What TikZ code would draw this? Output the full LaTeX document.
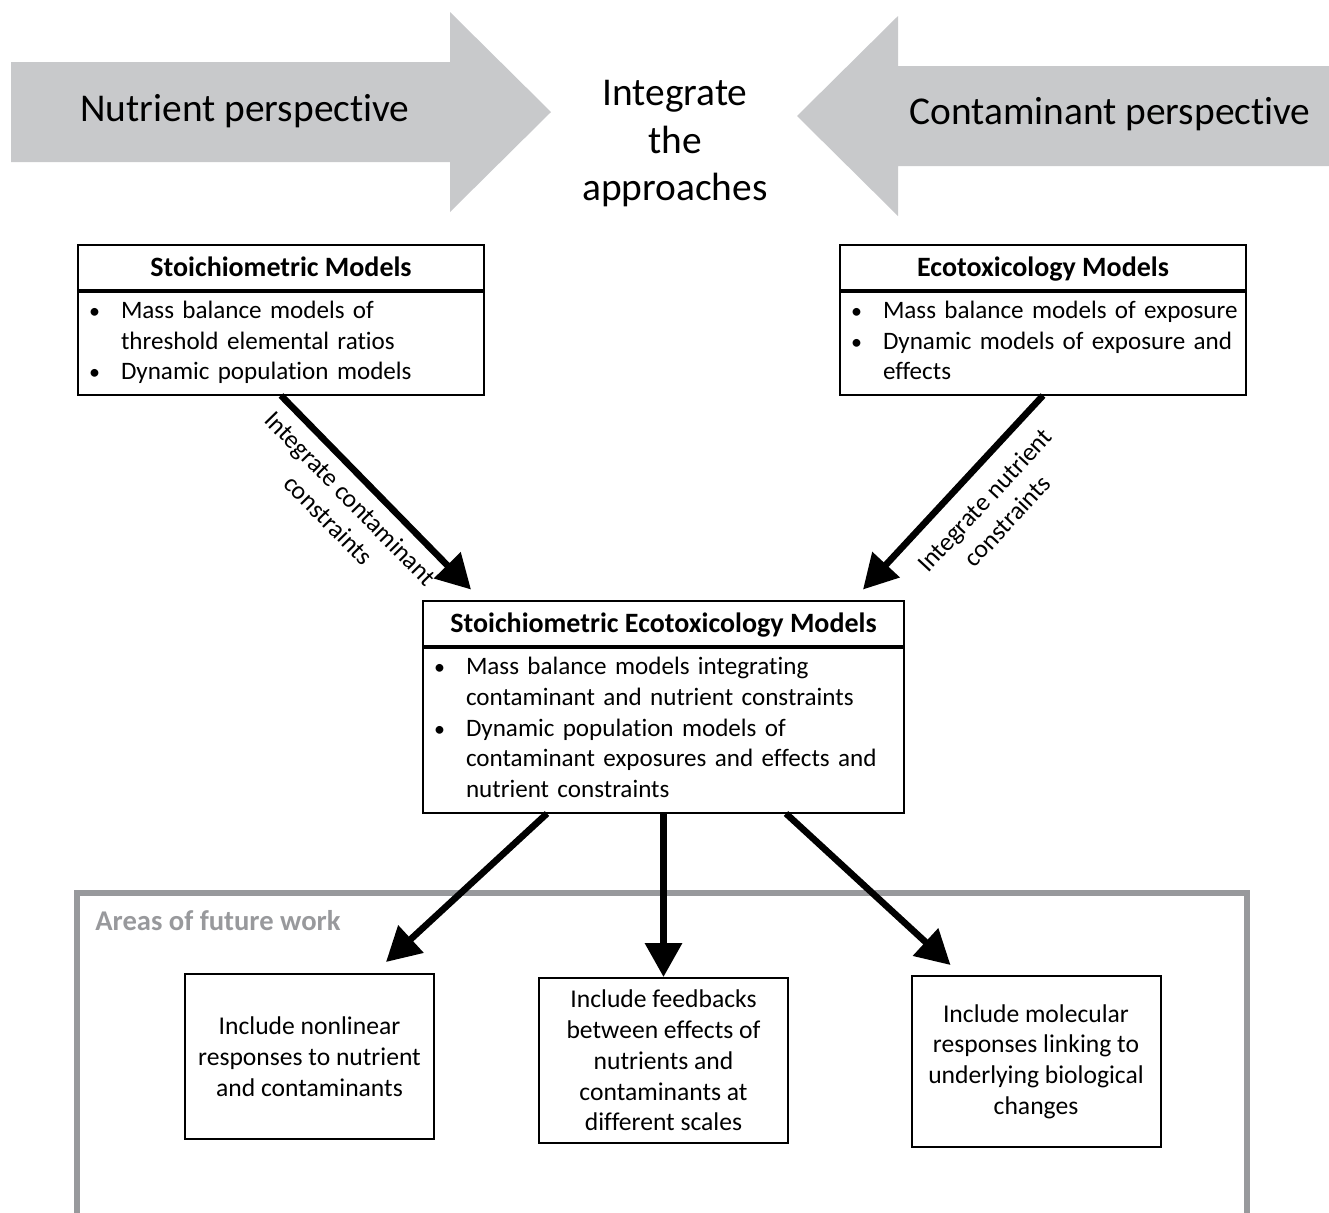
\documentclass[tikz,border=0pt]{standalone}
\usepackage{fontspec}
\setmainfont{Carlito}[Ligatures=CommonOff]
\usetikzlibrary{arrows.meta,calc,positioning}
\definecolor{arrowgray}{RGB}{200,201,203}
\definecolor{framegray}{RGB}{152,153,156}
\newcommand{\blist}[1]{\noindent\begin{tabular}{@{\hspace{1.5pt}}p{16pt}@{}l@{}}#1\end{tabular}}
\newcommand{\bul}{{\fontsize{11}{11}\selectfont\textbullet}}
\tikzset{
    >={Triangle[length=17pt,width=18pt]},
    titlebox/.style={
           draw=black, line width=1pt,
           minimum height=22.5pt,
           text height=10pt, text depth=1pt,
           inner sep=0pt,
           font=\bfseries\fontsize{14}{17}\selectfont},
    listbox/.style={
           draw=black, line width=1pt,
           inner xsep=4pt, inner ysep=0pt,
           align=left,
           font=\fontsize{12.55}{15.4}\selectfont},
    futbox/.style={
           draw=black, line width=1pt,
           minimum width=124.5pt,
           align=center,
           font=\fontsize{12.8}{15.4}\selectfont},
    bigtext/.style={
           align=center,
           font=\fontsize{19.7}{23.75}\selectfont},
    pillabel/.style={
           align=center, inner sep=5pt,
           font=\fontsize{12.8}{15.4}\selectfont},
    pil/.style={
           ->,
           line width=3.3pt}
}
\begin{document}
\begin{tikzpicture}[x=0.5pt,y=-0.5pt]
        \useasboundingbox (0,0) rectangle (1329,1212);
        \fill[arrowgray] (11,62) -- (450,62) -- (450,12) -- (551,112) -- (450,212) -- (450,162) -- (11,162) -- cycle;
        \fill[arrowgray] (1329,66) -- (898,66) -- (898,16) -- (797,116) -- (898,216) -- (898,166) -- (1329,166) -- cycle;
        \node[bigtext] (nutrient) at (245,111) {Nutrient perspective};
        \node[bigtext] (contam) at (1110,114) {Contaminant perspective};
        \node[bigtext] (integ) at (675,144) {Integrate\\the\\approaches};

        \node[titlebox, minimum width=203pt] (stoichT) at (281,267) {Stoichiometric Models};
        \node[listbox, text width=195pt, minimum height=51.5pt, below=0pt of stoichT] (stoich)
             {\blist{\bul & Mass balance models of\\ & threshold elemental ratios\\ \bul & Dynamic population models}};
        \node[titlebox, minimum width=203pt] (ecotoxT) at (1043,267) {Ecotoxicology Models};
        \node[listbox, text width=195pt, minimum height=51.5pt, below=0pt of ecotoxT] (ecotox)
             {\blist{\bul & Mass balance models of exposure\\ \bul & Dynamic models of exposure and\\ & effects}};
        \node[titlebox, minimum width=240.5pt] (sembT) at (663.5,623) {Stoichiometric Ecotoxicology Models};
        \node[listbox, text width=232.5pt, minimum height=82.5pt, below=0pt of sembT] (semb)
             {\blist{\bul & Mass balance models integrating\\ & contaminant and nutrient constraints\\ \bul & Dynamic population models of\\ & contaminant exposures and effects and\\ & nutrient constraints}};

        \draw[framegray, line width=3.3pt] (77,1216) -- (77,893) -- (1247,893) -- (1247,1216);
        \node[anchor=west, inner sep=0pt, text=framegray, font=\bfseries\fontsize{14.3}{17}\selectfont] (future) at (95,921) {Areas of future work};

        \node[futbox, minimum height=82.5pt] (futA) at (309.5,1056.5) {Include nonlinear\\responses to nutrient\\and contaminants};
        \node[futbox, minimum height=82.5pt] (futB) at (663.5,1060.5) {Include feedbacks\\between effects of\\nutrients and\\contaminants at\\different scales};
        \node[futbox, minimum height=85.5pt] (futC) at (1036,1061.5) {Include molecular\\responses linking to\\underlying biological\\changes};

        \draw[pil] (stoich.south) -- node[pillabel, sloped, below, pos=0.45] {Integrate contaminant\\constraints} ([shift={(49,-10)}]sembT.north west);
        \draw[pil] (ecotox.south) -- node[pillabel, sloped, below, pos=0.44, inner sep=8pt] {Integrate nutrient\\constraints} ([shift={(-42,-10)}]sembT.north east);
        \draw[pil] ([xshift=62.5pt]semb.south west) -- ([shift={(-49,-11)}]futA.north east);
        \draw[pil] (semb.south) -- (futB.north);
        \draw[pil] ([xshift=-59.5pt]semb.south east) -- ([shift={(40,-10)}]futC.north west);
\end{tikzpicture}
\end{document}
